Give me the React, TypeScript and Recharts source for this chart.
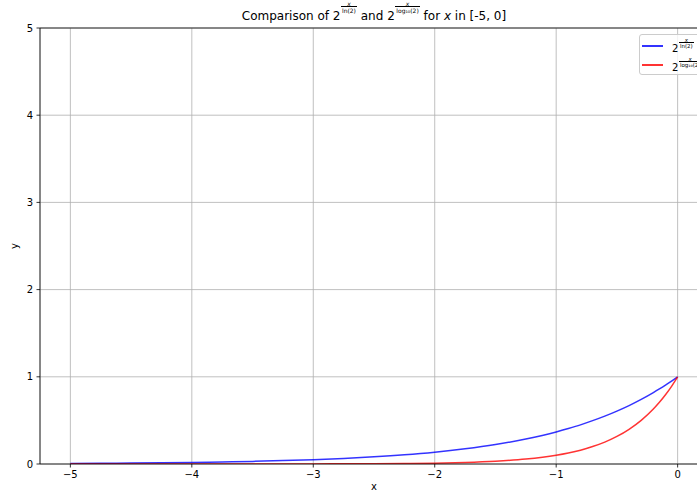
import React from "react";
import { LineChart, Line, XAxis, YAxis, CartesianGrid, ReferenceLine } from "recharts";

const xValues = [-5, -4.75, -4.5, -4.25, -4, -3.75, -3.5, -3.25, -3, -2.75, -2.5, -2.25, -2, -1.75, -1.5, -1.25, -1, -0.9, -0.8, -0.7, -0.6, -0.5, -0.4, -0.3, -0.2, -0.15, -0.1, -0.05, 0];
const blueValues = [0.007, 0.009, 0.011, 0.014, 0.018, 0.024, 0.03, 0.039, 0.05, 0.064, 0.082, 0.105, 0.135, 0.174, 0.223, 0.287, 0.368, 0.407, 0.449, 0.497, 0.549, 0.607, 0.67, 0.741, 0.819, 0.861, 0.905, 0.951, 1];
const redValues = [0, 0, 0, 0, 0, 0, 0, 0.001, 0.001, 0.002, 0.003, 0.006, 0.01, 0.018, 0.032, 0.056, 0.1, 0.126, 0.158, 0.2, 0.251, 0.316, 0.398, 0.501, 0.631, 0.708, 0.794, 0.891, 1];
const xTicks = [-5, -4, -3, -2, -1, 0];
const yTicks = [0, 1, 2, 3, 4, 5];

const data = xValues.map((x, i) => ({ x, blue: blueValues[i], red: redValues[i] }));

const FONT = "'DejaVu Sans', sans-serif";
const fmt = (v: number) => (v < 0 ? "\u2212" + Math.abs(v) : String(v));

const Frac = ({ num, den, size, lift }: { num: string; den: string; size: number; lift: number }) => (
  <span
    style={{
      display: "inline-block",
      position: "relative",
      top: -lift,
      marginLeft: 0.5,
      fontSize: size,
      lineHeight: `${size * 0.85}px`,
      textAlign: "center",
      verticalAlign: "baseline",
    }}
  >
    <span style={{ display: "block", fontStyle: "italic" }}>{num}</span>
    <span style={{ display: "block", borderTop: "0.7px solid #000", padding: "0.5px 1px 0 1px" }}>{den}</span>
  </span>
);

export default function App() {
  return (
    <div style={{ position: "fixed", left: 0, top: 0, width: 697, height: 493, overflow: "hidden", background: "#fff", fontFamily: FONT }}>
      <LineChart width={740} height={493} data={data} margin={{ top: 28, right: 32, bottom: 0, left: 0 }}>
        <CartesianGrid stroke="#b0b0b0" strokeWidth={0.8} />
        <XAxis
          dataKey="x"
          type="number"
          domain={[-5.25, 0.25]}
          ticks={xTicks}
          tickFormatter={fmt}
          allowDataOverflow
          height={29}
          tickSize={3.5}
          tickMargin={3.5}
          stroke="#000"
          strokeWidth={0.8}
          tick={{ fill: "#000", fontSize: 10, fontFamily: FONT }}
        />
        <YAxis
          type="number"
          domain={[0, 5]}
          ticks={yTicks}
          allowDataOverflow
          width={40}
          tickSize={3.5}
          tickMargin={3.5}
          stroke="#000"
          strokeWidth={0.8}
          tick={{ fill: "#000", fontSize: 10, fontFamily: FONT }}
        />
        <ReferenceLine y={5} stroke="#000" strokeWidth={0.8} />
        <ReferenceLine x={0.25} stroke="#000" strokeWidth={0.8} />
        <Line dataKey="blue" type="monotone" stroke="#0000ff" strokeOpacity={0.8} strokeWidth={1.5} dot={false} isAnimationActive={false} />
        <Line dataKey="red" type="monotone" stroke="#ff0000" strokeOpacity={0.8} strokeWidth={1.5} dot={false} isAnimationActive={false} />
      </LineChart>

      <div style={{ position: "absolute", left: 0, width: 748, top: 8, textAlign: "center", fontSize: 12, lineHeight: "14px", color: "#000", whiteSpace: "nowrap" }}>
        Comparison of 2<Frac num="x" den="ln(2)" size={6} lift={7} /> and 2<Frac num="x" den="log₁₀(2)" size={6} lift={7} /> for <i>x</i> in [-5, 0]
      </div>

      <div
        style={{
          position: "absolute",
          left: 639,
          top: 34,
          width: 80,
          height: 39,
          border: "1px solid #cccccc",
          borderRadius: 3,
          background: "rgba(255,255,255,0.8)",
          fontSize: 10,
          color: "#000",
        }}
      >
        <div style={{ position: "absolute", left: 2, top: 10.25, width: 21, height: 1.5, background: "rgba(0,0,255,0.8)" }} />
        <div style={{ position: "absolute", left: 32, top: 6.5, whiteSpace: "nowrap", lineHeight: "12px" }}>
          2<Frac num="x" den="ln(2)" size={5.5} lift={4} />
        </div>
        <div style={{ position: "absolute", left: 2, top: 29.25, width: 21, height: 1.5, background: "rgba(255,0,0,0.8)" }} />
        <div style={{ position: "absolute", left: 32, top: 25.5, whiteSpace: "nowrap", lineHeight: "12px" }}>
          2<Frac num="x" den="log₁₀(2)" size={5.5} lift={4} />
        </div>
      </div>

      <svg style={{ position: "absolute", left: 0, top: 0, pointerEvents: "none" }} width={697} height={493}>
        <text x={374} y={490} textAnchor="middle" fontSize={10} fontFamily={FONT} fill="#000">x</text>
        <text x={18} y={246} textAnchor="middle" fontSize={10} fontFamily={FONT} fill="#000" transform="rotate(-90 18 246)">y</text>
      </svg>
    </div>
  );
}
